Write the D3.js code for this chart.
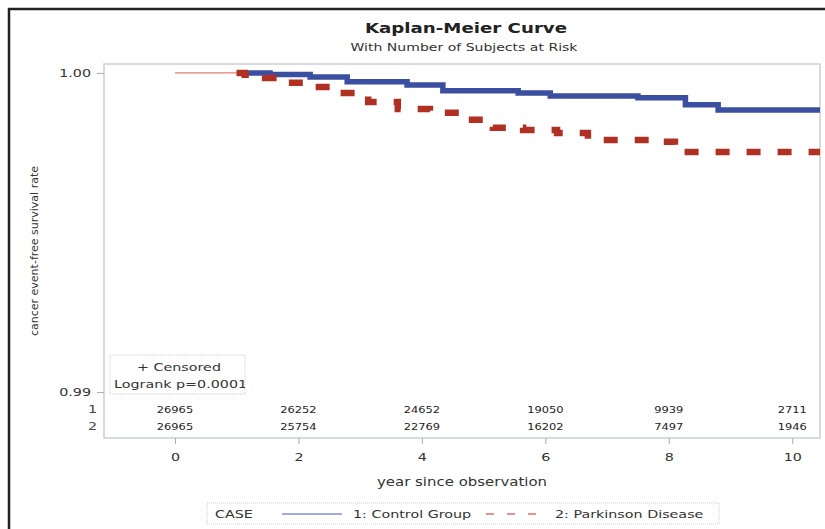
<!DOCTYPE html>
<html>
<head>
<meta charset="utf-8">
<script src="https://cdn.jsdelivr.net/npm/d3@7"></script>
<style>
  body { margin: 0; background: #fff; }
  svg { display: block; font-family: "DejaVu Sans", sans-serif; }
</style>
</head>
<body>
<svg id="chart" width="825" height="529"></svg>
<script>
// step points: [year, survival]
var controlSteps = [
  [1.0, 1.0000], [1.54, 0.99995], [2.19, 0.99987], [2.79, 0.99972],
  [3.76, 0.99962], [4.34, 0.99944], [5.56, 0.99937], [6.08, 0.99928],
  [7.50, 0.99922], [8.27, 0.99900], [8.80, 0.99884], [10.5, 0.99884]
];
var parkinsonSteps = [
  [1.0, 1.0000], [1.13, 0.99994], [1.46, 0.99984], [1.73, 0.99969],
  [2.16, 0.99956], [2.67, 0.99937], [3.13, 0.99909], [3.61, 0.99887],
  [4.13, 0.99875], [4.65, 0.99853], [5.15, 0.99828], [5.64, 0.99821],
  [6.19, 0.99812], [6.69, 0.99790], [7.73, 0.99784], [8.10, 0.99752],
  [10.5, 0.99752]
];
var leadIn = [[0, 1.0], [1.0, 1.0]];

var xTicks = [0, 2, 4, 6, 8, 10];
var yTicks = [0.99, 1.00];
var atRiskControl = [26965, 26252, 24652, 19050, 9939, 2711];
var atRiskParkinson = [26965, 25754, 22769, 16202, 7497, 1946];

var svg = d3.select("#chart");
// plot box (window.top is taken, so prefixed names)
var plotLeft = 104, plotRight = 820, plotTop = 64, plotBottom = 438;
// the source picture is squeezed/stretched sideways, text comes out wide
var sx = 1.3;

var x = d3.scaleLinear().domain([-1.15, 10.45]).range([plotLeft, plotRight]);
var y = d3.scaleLinear().domain([0.98856, 1.00028]).range([plotBottom, plotTop]);

var blue = "#3a4fa0", red = "#b03024";

var wideText = function (parent, px, py, anchor, size, str) {
    return parent.append("g")
        .attr("transform", "translate(" + px + "," + py + ") scale(" + sx + ",1)")
        .append("text")
        .attr("text-anchor", anchor)
        .style("font-size", size + "px")
        .attr("fill", "#333")
        .text(str);
};

// outer frame (only left/top edges fall inside the picture)
svg.append("path")
    .attr("d", "M9,529 V9 H825")
    .attr("fill", "none")
    .attr("stroke", "#222")
    .attr("stroke-width", 2.5);

// titles
wideText(svg, 466, 33, "middle", 14, "Kaplan-Meier Curve")
    .style("font-weight", "bold").attr("fill", "#222");
wideText(svg, 464, 51, "middle", 10.8, "With Number of Subjects at Risk");

// plot frame
svg.append("rect")
    .attr("x", plotLeft).attr("y", plotTop)
    .attr("width", plotRight - plotLeft).attr("height", plotBottom - plotTop)
    .attr("fill", "none").attr("stroke", "#c8cfd4").attr("stroke-width", 1.5);

// axes
var yAxis = svg.append("g")
    .attr("transform", "translate(" + plotLeft + ",0)")
    .call(d3.axisLeft(y).tickValues(yTicks).tickFormat(d3.format(".2f")).tickSize(7).tickPadding(3));
var xAxis = svg.append("g")
    .attr("transform", "translate(0," + plotBottom + ")")
    .call(d3.axisBottom(x).tickValues(xTicks).tickSize(6).tickPadding(9));
[yAxis, xAxis].forEach(function (g) {
    g.select(".domain").remove();
    g.selectAll(".tick line").attr("stroke", "#aab");
    g.selectAll(".tick text")
        .attr("transform", "scale(" + sx + ",1)")
        .style("font-family", "DejaVu Sans, sans-serif")
        .style("font-size", "11px").attr("fill", "#333");
});

wideText(svg, 462, 486, "middle", 11.5, "year since observation");
svg.append("text")
    .attr("transform", "translate(38," + (plotTop + plotBottom) / 2 + ") rotate(-90)")
    .attr("text-anchor", "middle")
    .style("font-size", "11px").attr("fill", "#333")
    .text("cancer event-free survival rate");

// curves
svg.append("clipPath").attr("id", "plotclip")
    .append("rect").attr("x", plotLeft).attr("y", plotTop)
    .attr("width", plotRight - plotLeft).attr("height", plotBottom - plotTop);
var line = d3.line()
    .x(function (d) { return x(d[0]); })
    .y(function (d) { return y(d[1]); })
    .curve(d3.curveStepAfter);
var plot = svg.append("g").attr("clip-path", "url(#plotclip)");

plot.append("path").datum(leadIn)
    .attr("d", line).attr("fill", "none")
    .attr("stroke", "#e08070").attr("stroke-width", 1.2);
plot.append("path").datum(controlSteps)
    .attr("d", line).attr("fill", "none")
    .attr("stroke", blue).attr("stroke-width", 5.5);
plot.append("path").datum(parkinsonSteps)
    .attr("d", line).attr("fill", "none")
    .attr("stroke", red).attr("stroke-width", 6.5)
    .attr("stroke-dasharray", "14,17");

// censored / logrank inset, text cut at the box edge like the source
svg.append("clipPath").attr("id", "insetclip")
    .append("rect").attr("x", 110).attr("y", 355).attr("width", 135).attr("height", 39);
var inset = svg.append("g");
inset.append("rect")
    .attr("x", 110).attr("y", 355).attr("width", 135).attr("height", 39)
    .attr("fill", "#fff").attr("stroke", "#ccd").attr("stroke-dasharray", "1,1");
var insetText = inset.append("g").attr("clip-path", "url(#insetclip)");
wideText(insetText, 179, 371, "middle", 11, "+ Censored");
wideText(insetText, 114, 388, "start", 11, "Logrank p=0.0001");

// at-risk table
var rows = [["1", atRiskControl, 413], ["2", atRiskParkinson, 430]];
rows.forEach(function (r) {
    wideText(svg, 97, r[2], "end", 11, r[0]).attr("fill", "#444");
    r[1].forEach(function (d, i) {
        wideText(svg, x(xTicks[i]), r[2], "middle", 8.8, d).attr("fill", "#222");
    });
});

// legend
var lg = svg.append("g");
lg.append("rect")
    .attr("x", 207).attr("y", 503).attr("width", 512).attr("height", 21)
    .attr("fill", "#fff").attr("stroke", "#ccd").attr("stroke-dasharray", "1,1");
wideText(lg, 215, 518, "start", 11, "CASE");
lg.append("line").attr("x1", 282).attr("x2", 342).attr("y1", 514).attr("y2", 514)
    .attr("stroke", "#7f8fcc").attr("stroke-width", 1.5);
wideText(lg, 353, 518, "start", 11, "1: Control Group");
lg.append("line").attr("x1", 486).attr("x2", 547).attr("y1", 514).attr("y2", 514)
    .attr("stroke", "#e0706a").attr("stroke-width", 1.5).attr("stroke-dasharray", "8,13");
wideText(lg, 555, 518, "start", 11, "2: Parkinson Disease");
</script>
</body>
</html>
